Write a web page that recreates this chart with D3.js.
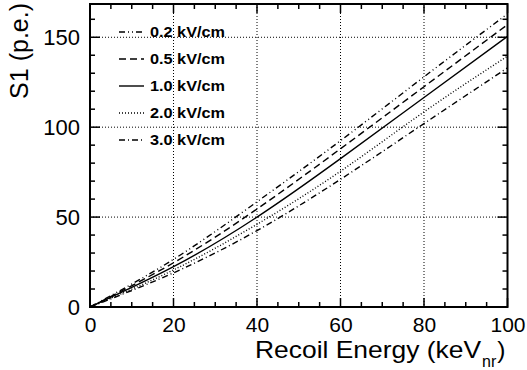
<!DOCTYPE html>
<html><head><meta charset="utf-8">
<script src="https://cdn.jsdelivr.net/npm/d3@7"></script>
<style>body{margin:0;background:#fff}svg{display:block}text{font-family:"Liberation Sans",Arial,sans-serif}</style>
</head><body><svg id="c" width="527" height="370"></svg>
<script>
const energy = [0, 20, 40, 60, 80, 100];
const s02 = [0, 26.5, 58.5, 92.5, 128, 163];
const s05 = [0, 24.6, 54.5, 88, 122.5, 157];
const s10 = [0, 22.4, 50, 82.5, 116.5, 150.5];
const s20 = [0, 20.6, 46, 75.5, 108.5, 139.5];
const s30 = [0, 19, 42.5, 71, 102, 133];
const seriesNames = ["0.2 kV/cm", "0.5 kV/cm", "1.0 kV/cm", "2.0 kV/cm", "3.0 kV/cm"];
const xTicks = [0, 20, 40, 60, 80, 100];
const yTicks = [0, 50, 100, 150];

const series = [s02, s05, s10, s20, s30];
const dashes = ["6,3,1,3,1,3", "7,4", null, "1,2", "6,3,1,3"];

const L = 90, R = 507.5, T = 4, B = 307;
const svg = d3.select("#c");
const x = d3.scaleLinear().domain([0, 100]).range([L, R]);
const y = d3.scaleLinear().domain([0, 168.5]).range([B, T]);

// grid
const g = svg.append("g");
g.selectAll("line.gx").data(xTicks.slice(1, -1)).join("line")
  .attr("x1", d => x(d)).attr("x2", d => x(d)).attr("y1", T).attr("y2", B)
  .attr("stroke", "#000").attr("stroke-width", 1).attr("stroke-dasharray", "1,2");
g.selectAll("line.gy").data(yTicks.slice(1)).join("line")
  .attr("y1", d => y(d)).attr("y2", d => y(d)).attr("x1", L).attr("x2", R)
  .attr("stroke", "#000").attr("stroke-width", 1).attr("stroke-dasharray", "1,2");

// curves
const line = d3.line().x((d, i) => x(energy[i])).y(d => y(d)).curve(d3.curveNatural);
series.forEach((s, k) => {
  svg.append("path").attr("d", line(s)).attr("fill", "none").attr("stroke", "#000")
    .attr("stroke-width", 1.4).attr("stroke-dasharray", dashes[k]);
});

// ticks
const tg = svg.append("g").attr("stroke", "#000").attr("stroke-width", 1.5);
d3.range(0, 101, 5).forEach(v => {
  const len = v % 20 === 0 ? 9 : 5;
  tg.append("line").attr("x1", x(v)).attr("x2", x(v)).attr("y1", B).attr("y2", B - len);
  tg.append("line").attr("x1", x(v)).attr("x2", x(v)).attr("y1", T).attr("y2", T + len);
});
d3.range(0, 169, 10).forEach(v => {
  const len = v % 50 === 0 ? 10 : 5;
  tg.append("line").attr("y1", y(v)).attr("y2", y(v)).attr("x1", L).attr("x2", L + len);
  tg.append("line").attr("y1", y(v)).attr("y2", y(v)).attr("x1", R).attr("x2", R - len);
});
svg.append("rect").attr("x", L).attr("y", T).attr("width", R - L).attr("height", B - T)
  .attr("fill", "none").attr("stroke", "#000").attr("stroke-width", 2);

const axisX = d3.axisBottom(x).tickValues(xTicks).tickSize(0).tickPadding(9);
const gx = svg.append("g").attr("transform", `translate(0,${B})`).call(axisX);
gx.select(".domain").remove();
gx.selectAll("text").attr("font-size", 21).attr("fill", "#000").attr("font-family", "Liberation Sans, Arial, sans-serif").attr("dy", "0.75em");

const axisY = d3.axisLeft(y).tickValues(yTicks).tickSize(0).tickPadding(10);
const gy = svg.append("g").attr("transform", `translate(${L},0)`).call(axisY);
gy.select(".domain").remove();
gy.selectAll("text").attr("font-size", 22).attr("fill", "#000").attr("font-family", "Liberation Sans, Arial, sans-serif");

// axis titles
const xt = svg.append("text").attr("x", 255).attr("y", 358).attr("text-anchor", "start")
  .attr("font-size", 24.5).attr("fill", "#000");
xt.append("tspan").attr("textLength", 226).attr("lengthAdjust", "spacingAndGlyphs").text("Recoil Energy (keV");
xt.append("tspan").attr("font-size", 16).attr("dy", 9).attr("dx", 1).text("nr");
xt.append("tspan").attr("dy", -9).attr("dx", 1).text(")");

svg.append("text").attr("transform", "translate(28,3) rotate(-90)").attr("text-anchor", "end")
  .attr("font-size", 25).attr("fill", "#000").text("S1 (p.e.)");

// legend
const ly = [32, 59, 86, 113, 140];
seriesNames.forEach((n, k) => {
  svg.append("line").attr("x1", 119).attr("x2", 144).attr("y1", ly[k]).attr("y2", ly[k])
    .attr("stroke", "#000").attr("stroke-width", 1.4).attr("stroke-dasharray", dashes[k]);
  svg.append("text").attr("x", 150).attr("y", ly[k] + 5).attr("font-size", 14).attr("font-weight", "bold")
    .attr("textLength", 75).attr("lengthAdjust", "spacingAndGlyphs").text(n);
});
</script></body></html>
